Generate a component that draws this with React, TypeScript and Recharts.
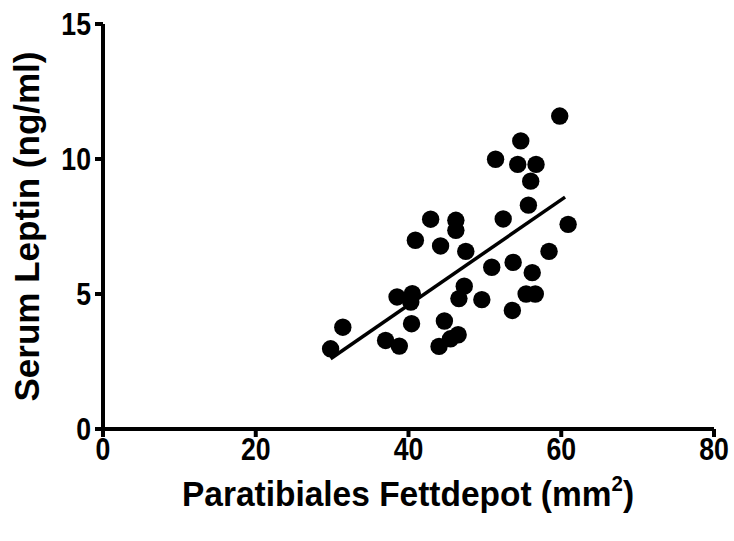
import { ScatterChart, Scatter, XAxis, YAxis, Label } from "recharts";

// Paratibiales Fettdepot (mm2) vs Serum Leptin (ng/ml)
const fatDepot = [
  29.8, 31.4, 37.0, 38.8, 38.5, 40.5, 40.3, 40.4, 40.9, 42.9, 44.2, 46.2, 46.2,
  47.5, 47.3, 46.6, 49.6, 44.7, 44.0, 45.5, 46.5, 50.9, 51.4, 52.4, 53.7, 53.6,
  54.3, 54.7, 56.7, 56.0, 55.7, 56.2, 55.4, 56.6, 58.4, 60.9, 59.8,
];
const leptin = [
  2.97, 3.77, 3.28, 3.07, 4.89, 5.01, 4.7, 3.9, 6.99, 7.77, 6.78, 7.73, 7.36,
  6.58, 5.29, 4.83, 4.79, 4.0, 3.06, 3.34, 3.49, 5.99, 9.99, 7.78, 6.17, 4.39,
  9.8, 10.67, 9.8, 9.18, 8.29, 5.79, 5.0, 5.0, 6.58, 7.58, 11.59,
];

// regression line end points
const fitX = [29.8, 60.5];
const fitY = [2.6, 8.59];

const xTicks = [0, 20, 40, 60, 80];
const yTicks = [0, 5, 10, 15];

const points = fatDepot.map((x, i) => ({ x, y: leptin[i] }));
const fitLine = fitX.map((x, i) => ({ x, y: fitY[i] }));

const FONT = "'Liberation Sans', Arial, sans-serif";

const Dot = (props: any) => (
  <circle cx={props.cx} cy={props.cy} r={8.7} fill="#000" />
);

// tick labels are drawn a bit condensed, like the original
const XTick = (props: any) => (
  <text
    transform={`translate(${props.x},${props.y + 21}) scale(0.86,1)`}
    textAnchor="middle"
    fontSize={31}
    fontWeight={700}
    fontFamily={FONT}
    fill="#000"
  >
    {props.payload.value}
  </text>
);

const YTick = (props: any) => (
  <text
    transform={`translate(${props.x},${props.y + 11}) scale(0.86,1)`}
    textAnchor="end"
    fontSize={31}
    fontWeight={700}
    fontFamily={FONT}
    fill="#000"
  >
    {props.payload.value}
  </text>
);

export default function App() {
  return (
    <div style={{ position: "absolute", left: 0, top: 0 }}>
      <ScatterChart
        width={734}
        height={541}
        margin={{ top: 24, right: 20, bottom: 0, left: 0 }}
      >
        <XAxis
          type="number"
          dataKey="x"
          domain={[0, 80]}
          ticks={xTicks}
          interval={0}
          height={112}
          tickSize={8}
          tickMargin={2}
          axisLine={{ stroke: "#000", strokeWidth: 4 }}
          tickLine={{ stroke: "#000", strokeWidth: 4 }}
          tick={<XTick />}
        >
          <Label
            content={() => (
              <text
                transform="translate(408,506) scale(0.93,1)"
                textAnchor="middle"
                fontSize={36}
                fontWeight="bold"
                fontFamily={FONT}
                fill="#000"
              >
                Paratibiales Fettdepot (mm
                <tspan fontSize={22} dy={-15}>
                  2
                </tspan>
                <tspan dy={15}>)</tspan>
              </text>
            )}
          />
        </XAxis>
        <YAxis
          type="number"
          dataKey="y"
          domain={[0, 15]}
          ticks={yTicks}
          interval={0}
          width={103}
          tickSize={8}
          tickMargin={4}
          axisLine={{ stroke: "#000", strokeWidth: 4 }}
          tickLine={{ stroke: "#000", strokeWidth: 4 }}
          tick={<YTick />}
        >
          <Label
            content={() => (
              <text
                transform="translate(39,226.5) rotate(-90)"
                textAnchor="middle"
                fontSize={35}
                fontWeight="bold"
                fontFamily={FONT}
                fill="#000"
              >
                Serum Leptin (ng/ml)
              </text>
            )}
          />
        </YAxis>
        <Scatter
          data={points}
          shape={Dot}
          isAnimationActive={false}
        />
        <Scatter
          data={fitLine}
          line={{ stroke: "#000", strokeWidth: 3.5 }}
          shape={() => <g />}
          isAnimationActive={false}
        />
      </ScatterChart>
    </div>
  );
}
